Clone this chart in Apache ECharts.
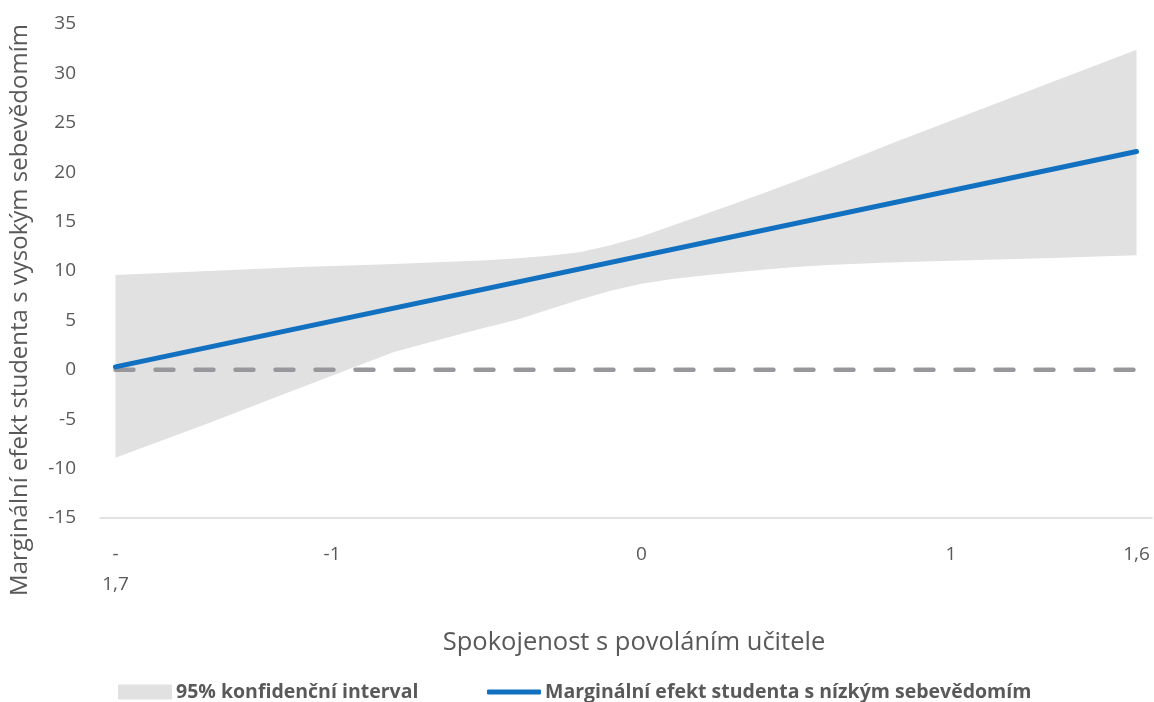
<!DOCTYPE html>
<html>
<head>
<meta charset="utf-8">
<script src="https://cdn.jsdelivr.net/npm/echarts@6/dist/echarts.min.js"></script>
<style>
html,body{margin:0;padding:0;background:#fff;}
#main{width:1154px;height:702px;}
</style>
</head>
<body>
<div id="main"></div>
<script>
// x positions (Spokojenost s povoláním učitele)
var xValues = [-1.7, -1.4, -1.1, -0.8, -0.6, -0.5, -0.4, -0.3, -0.2, -0.1, 0, 0.1, 0.2, 0.3, 0.4, 0.5, 0.6, 0.8, 1.0, 1.3, 1.6];
// 95% confidence interval bounds
var lowerBound = [-8.9, -5.4, -1.8, 1.8, 3.5, 4.3, 5.1, 6.1, 7.1, 8.0, 8.7, 9.2, 9.55, 9.85, 10.15, 10.4, 10.6, 10.85, 11.05, 11.3, 11.6];
var upperBound = [9.6, 10.0, 10.4, 10.7, 10.95, 11.1, 11.3, 11.55, 11.9, 12.6, 13.5, 14.6, 15.7, 16.8, 17.95, 19.1, 20.3, 22.8, 25.2, 28.8, 32.4];
// marginal effect line
var lineX = [-1.7, 1.6];
var lineY = [0.3, 22.1];
// zero reference
var zeroY = [0, 0];
// x tick labels
var xTickValues = [-1.7, -1, 0, 1, 1.6];
var xTickLabels = ['-\n1,7', '-1', '0', '1', '1,6'];

var bandName = '95% konfidenční interval';
var lineName = 'Marginální efekt studenta s nízkým sebevědomím';
var textColor = '#595959';
var bandColor = '#e1e1e1';
var font = '"Open Sans", sans-serif';

var bandData = xValues.map(function (x, i) { return [x, lowerBound[i], upperBound[i]]; });
var lineData = lineX.map(function (x, i) { return [x, lineY[i]]; });
var zeroData = lineX.map(function (x, i) { return [x, zeroY[i]]; });

var chart = echarts.init(document.getElementById('main'), null, {renderer: 'canvas'});
chart.setOption({
  animation: false,
  backgroundColor: '#fff',
  textStyle: {fontFamily: font},
  grid: {left: 100, right: 2, top: 24, bottom: 184, containLabel: false},
  xAxis: {
    type: 'value', min: -1.75, max: 1.65,
    axisLine: {show: true, onZero: false, lineStyle: {color: '#d9d9d9', width: 1.5}},
    axisTick: {show: false},
    splitLine: {show: false},
    axisLabel: {
      customValues: xTickValues,
      color: textColor, fontSize: 19, fontFamily: font, margin: 22, lineHeight: 30,
      verticalAlign: 'top',
      formatter: function (v) {
        for (var i = 0; i < xTickValues.length; i++) {
          if (Math.abs(xTickValues[i] - v) < 1e-6) return xTickLabels[i];
        }
        return '';
      }
    }
  },
  yAxis: {
    type: 'value', min: -15, max: 35, interval: 5,
    axisLine: {show: false}, axisTick: {show: false}, splitLine: {show: false},
    axisLabel: {color: textColor, fontSize: 19, fontFamily: font, margin: 24}
  },
  legend: [{
    data: [{name: bandName, icon: 'rect'}],
    left: 118, top: 682, padding: 0, itemWidth: 54, itemHeight: 15, itemGap: 4,
    textStyle: {color: textColor, fontSize: 19.5, fontWeight: 'bold', fontFamily: font, padding: [0, 0, 0, -1]}
  }, {
    data: [{name: lineName, icon: 'roundRect'}],
    left: 487, top: 682, padding: 0, itemWidth: 54, itemHeight: 5, itemGap: 4,
    textStyle: {color: textColor, fontSize: 19.5, fontWeight: 'bold', fontFamily: font, padding: [0, 0, 0, -1]}
  }],
  graphic: [{
    type: 'text', x: 20, y: 310, rotation: Math.PI / 2,
    style: {text: 'Marginální efekt studenta s vysokým sebevědomím', fill: textColor, font: '24px "Open Sans", sans-serif', align: 'center', verticalAlign: 'middle'}
  }, {
    type: 'text', x: 634, y: 643,
    style: {text: 'Spokojenost s povoláním učitele', fill: textColor, font: '25.5px "Open Sans", sans-serif', align: 'center', verticalAlign: 'middle'}
  }],
  series: [{
    name: bandName, type: 'custom', data: bandData,
    itemStyle: {color: bandColor},
    encode: {x: 0, y: [1, 2]},
    silent: true, z: 1,
    renderItem: function (params, api) {
      if (params.dataIndex !== 0) return null;
      var upper = [], lower = [];
      for (var i = 0; i < bandData.length; i++) {
        upper.push(api.coord([bandData[i][0], bandData[i][2]]));
        lower.push(api.coord([bandData[i][0], bandData[i][1]]));
      }
      var pts = upper.concat(lower.reverse());
      return {type: 'polygon', shape: {points: pts}, style: {fill: bandColor, stroke: null}};
    }
  }, {
    name: 'zero', type: 'line', data: zeroData, symbol: 'none',
    lineStyle: {color: '#97979c', width: 4.5, type: [18, 22], cap: 'round'}, z: 2
  }, {
    name: lineName, type: 'line', data: lineData, symbol: 'none',
    itemStyle: {color: '#1170bf'},
    lineStyle: {color: '#1170bf', width: 5, cap: 'round'}, z: 3
  }]
});
</script>
</body>
</html>
